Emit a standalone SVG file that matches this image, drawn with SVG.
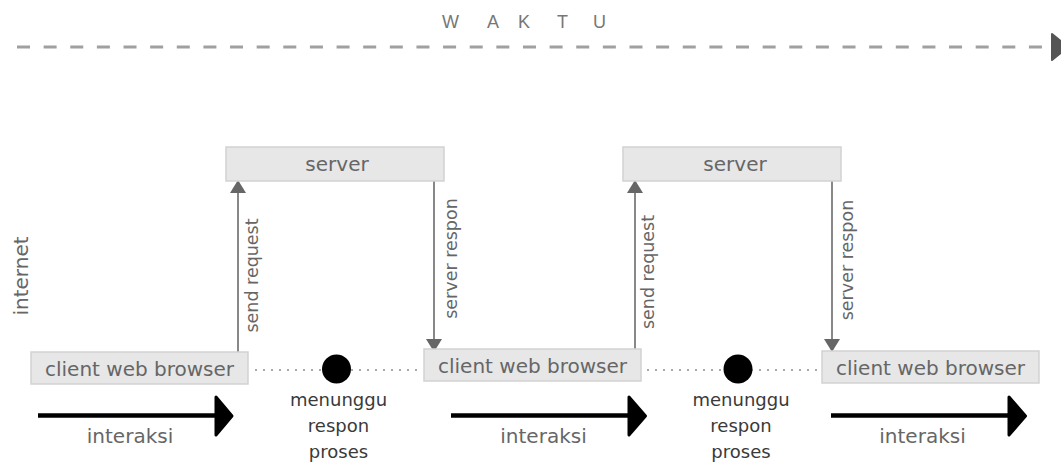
<svg xmlns="http://www.w3.org/2000/svg" width="1061" height="464" viewBox="0 0 1061 464">
  <style>
    .box { fill: #e7e7e7; stroke: #d2d2d2; stroke-width: 1.5; }
    .lbl { font-family: "DejaVu Sans", Verdana, sans-serif; font-size: 20px; fill: #666; text-anchor: middle; }
    .vlbl { font-family: "DejaVu Sans", Verdana, sans-serif; font-size: 17.5px; fill: #666; text-anchor: middle; }
    .wait { font-family: "DejaVu Sans", Verdana, sans-serif; font-size: 18px; fill: #3a3a3a; text-anchor: middle; }
    .link { stroke: #888; stroke-width: 2; fill: none; marker-end: url(#head); }
    .dots { stroke: #aaa; stroke-width: 2; stroke-dasharray: 2 6; }
    .flow { stroke: #000; stroke-width: 4.5; }
    .flowhead { fill: #000; stroke: #000; stroke-width: 3; stroke-linejoin: round; }
  </style>
  <defs>
    <marker id="head" markerUnits="userSpaceOnUse" viewBox="0 0 13 16" markerWidth="13" markerHeight="16" refX="13" refY="8" orient="auto">
      <path d="M0,0 L13,8 L0,16 z" fill="#666"/>
    </marker>
  </defs>

  <rect width="1061" height="464" fill="#fff"/>

  <!-- time axis -->
  <g id="time-axis">
    <text x="442 487 518 557 593" y="28" font-family="Liberation Sans, Arial, sans-serif" font-size="18" fill="#777">WAKTU</text>
    <line x1="17" y1="47" x2="1042" y2="47" stroke="#a0a0a0" stroke-width="3" stroke-dasharray="13 13.63"/>
    <polygon points="1052,34 1068,47 1052,60" fill="#555" stroke="#555" stroke-width="2" stroke-linejoin="round"/>
  </g>

  <text class="lbl" transform="translate(28,276) rotate(-90)">internet</text>

  <!-- connectors -->
  <g id="connectors">
    <line class="link" x1="238" y1="352" x2="238" y2="180"/>
    <line class="link" x1="434" y1="181" x2="434" y2="352"/>
    <line class="link" x1="635" y1="349" x2="635" y2="180"/>
    <line class="link" x1="832" y1="181" x2="832" y2="352"/>

    <line class="dots" x1="255" y1="370" x2="423" y2="370"/>
    <line class="dots" x1="647" y1="370" x2="822" y2="370"/>

    <line class="flow" x1="38" y1="415.5" x2="218" y2="415.5"/>
    <polygon class="flowhead" points="216,397 232,416 216,435"/>
    <line class="flow" x1="451" y1="415.5" x2="631" y2="415.5"/>
    <polygon class="flowhead" points="629,397 645.5,416 629,435"/>
    <line class="flow" x1="831" y1="415.5" x2="1011" y2="415.5"/>
    <polygon class="flowhead" points="1009,397 1025.5,416 1009,435"/>
  </g>

  <!-- connector labels -->
  <g id="connector-labels">
    <text class="vlbl" transform="translate(258,275.5) rotate(-90)">send request</text>
    <text class="vlbl" transform="translate(457,258.5) rotate(-90)">server respon</text>
    <text class="vlbl" transform="translate(654,272) rotate(-90)">send request</text>
    <text class="vlbl" transform="translate(853,260) rotate(-90)">server respon</text>
    <text class="lbl" x="130" y="443">interaksi</text>
    <text class="lbl" x="543.5" y="443">interaksi</text>
    <text class="lbl" x="922.5" y="443">interaksi</text>
  </g>

  <!-- servers -->
  <g id="server-1">
    <rect class="box" x="226" y="147" width="218" height="34"/>
    <text class="lbl" x="337" y="171">server</text>
  </g>
  <g id="server-2">
    <rect class="box" x="623" y="147" width="218" height="34"/>
    <text class="lbl" x="735" y="171">server</text>
  </g>

  <!-- clients -->
  <g id="client-1">
    <rect class="box" x="31" y="352" width="217" height="32"/>
    <text class="lbl" x="139.5" y="376">client web browser</text>
  </g>
  <g id="client-2">
    <rect class="box" x="424" y="349" width="217" height="32"/>
    <text class="lbl" x="532.5" y="373">client web browser</text>
  </g>
  <g id="client-3">
    <rect class="box" x="822" y="351" width="217" height="32"/>
    <text class="lbl" x="930.5" y="375">client web browser</text>
  </g>

  <!-- waiting states -->
  <g id="wait-1">
    <circle cx="336.5" cy="369" r="14.5" fill="#000"/>
    <text class="wait" x="338.5" y="406">menunggu</text>
    <text class="wait" x="338.5" y="432">respon</text>
    <text class="wait" x="338.5" y="458">proses</text>
  </g>
  <g id="wait-2">
    <circle cx="738" cy="369" r="14.5" fill="#000"/>
    <text class="wait" x="741" y="406">menunggu</text>
    <text class="wait" x="741" y="432">respon</text>
    <text class="wait" x="741" y="458">proses</text>
  </g>
</svg>
